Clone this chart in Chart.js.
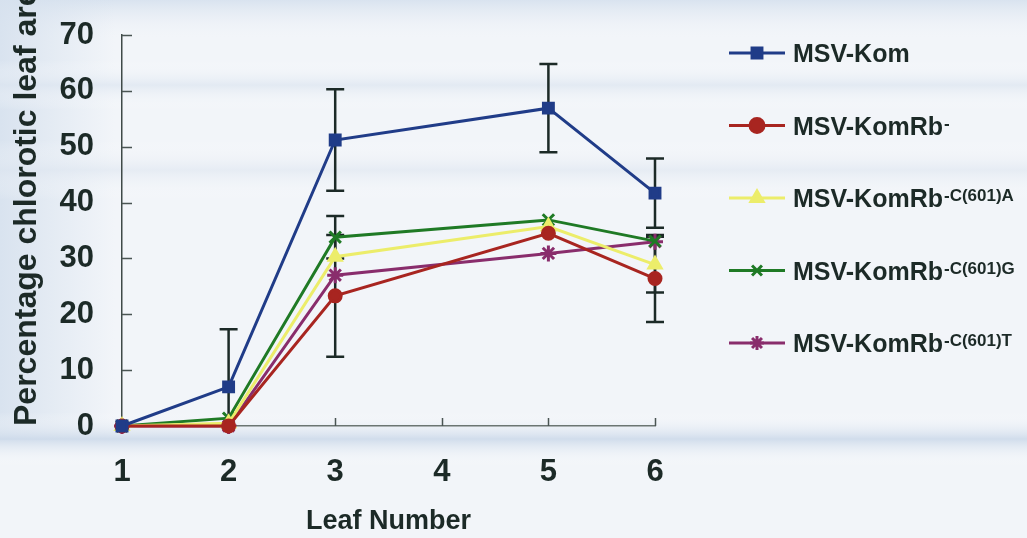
<!DOCTYPE html>
<html>
<head>
<meta charset="utf-8">
<script src="https://cdn.jsdelivr.net/npm/chart.js@4.4.0/dist/chart.umd.min.js"></script>
<style>
  html, body { margin: 0; padding: 0; background: #eef2f7; }
  #wrap { width: 1027px; height: 538px; }
</style>
</head>
<body>
<div id="wrap"><canvas id="lineChart"></canvas></div>
<script>
// Leaf positions that were scored (leaf 4 was not sampled)
const leafNumbers = [1, 2, 3, 5, 6];
const xTickValues = [1, 2, 3, 4, 5, 6];
const yTickValues = [0, 10, 20, 30, 40, 50, 60, 70];

const seriesNames = ['MSV-Kom', 'MSV-KomRb', 'MSV-KomRb', 'MSV-KomRb', 'MSV-KomRb'];
const seriesSup = ['', '-', '-C(601)A', '-C(601)G', '-C(601)T'];

// Mean percentage chlorotic leaf area
const komValues = [0, 7.0, 51.2, 56.9, 41.7];
const komRbValues = [0, 0, 23.3, 34.5, 26.4];
const c601aValues = [0, 0.5, 30.3, 35.7, 28.9];
const c601gValues = [0, 1.4, 33.8, 36.9, 33.1];
const c601tValues = [0, 0, 27.0, 30.9, 33.0];

// Error bar half-lengths
const komErrors = [0, 10.3, 9.1, 7.9, 6.2];
const komRbErrors = [0, 0, 10.9, 0, 7.8];
const c601aErrors = [0, 0, 0, 0, 5.0];
const c601gErrors = [0, 0, 3.8, 0, 0];
const c601tErrors = [0, 0, 0, 0, 0];

const FONT = '"Liberation Sans", Arial, sans-serif';
const INK = '#1c2a27';

function points(values) {
    return values.map((v, i) => ({ x: leafNumbers[i], y: v }));
}

function series(idx, values, errors, color, style, radius) {
    return {
        label: seriesNames[idx] + seriesSup[idx],
        data: points(values),
        errors: errors,
        borderColor: color,
        backgroundColor: color,
        borderWidth: 3,
        pointStyle: style,
        pointRadius: radius,
        pointBorderWidth: 3,
        pointBackgroundColor: color,
        pointBorderColor: color,
        tension: 0,
        clip: false
    };
}

const datasets = [
    series(0, komValues, komErrors, '#203c88', 'rect', 7),
    series(1, komRbValues, komRbErrors, '#a82520', 'circle', 6),
    series(2, c601aValues, c601aErrors, '#eced6a', 'triangle', 7),
    series(3, c601gValues, c601gErrors, '#1f7a25', 'crossRot', 8),
    series(4, c601tValues, c601tErrors, '#892d6c', 'star', 8)
];

function band(ctx, y0, y1, color) {
    const g = ctx.createLinearGradient(0, y0, 0, y1);
    g.addColorStop(0, 'rgba(255,255,255,0)');
    g.addColorStop(0.5, color);
    g.addColorStop(1, 'rgba(255,255,255,0)');
    ctx.fillStyle = g;
    ctx.fillRect(0, y0, 1027, y1 - y0);
}

// paper-like background behind everything
const backdrop = {
    id: 'backdrop',
    beforeDraw(chart) {
        const ctx = chart.ctx;
        ctx.save();
        ctx.fillStyle = '#f2f5f9';
        ctx.fillRect(0, 0, chart.width, chart.height);
        const g = ctx.createLinearGradient(0, 0, 0, 40);
        g.addColorStop(0, '#d9e3ef');
        g.addColorStop(1, 'rgba(242,245,249,0)');
        ctx.fillStyle = g;
        ctx.fillRect(0, 0, chart.width, 40);
        const s = ctx.createLinearGradient(0, 0, 115, 0);
        s.addColorStop(0, 'rgba(214,225,238,0.9)');
        s.addColorStop(1, 'rgba(214,225,238,0)');
        ctx.fillStyle = s;
        ctx.fillRect(0, 0, 115, 440);
        band(ctx, 412, 466, 'rgba(205,218,234,0.9)');
        band(ctx, 60, 110, 'rgba(220,229,240,0.7)');
        band(ctx, 140, 200, 'rgba(222,230,240,0.6)');
        ctx.restore();
    }
};

// vertical error bars with caps, under the lines
const errorBars = {
    id: 'errorBars',
    beforeDatasetsDraw(chart) {
        const ctx = chart.ctx;
        const y = chart.scales.y;
        const area = chart.chartArea;
        ctx.save();
        ctx.beginPath();
        ctx.rect(area.left - 20, area.top - 20, area.right - area.left + 40, area.bottom - area.top + 20);
        ctx.clip();
        ctx.strokeStyle = INK;
        ctx.lineWidth = 2.5;
        chart.data.datasets.forEach((ds, di) => {
            const meta = chart.getDatasetMeta(di);
            ds.errors.forEach((e, i) => {
                if (!e) return;
                const px = meta.data[i].x;
                const v = ds.data[i].y;
                const top = y.getPixelForValue(v + e);
                const bot = y.getPixelForValue(v - e);
                ctx.beginPath();
                ctx.moveTo(px, top);
                ctx.lineTo(px, bot);
                ctx.moveTo(px - 9, top);
                ctx.lineTo(px + 9, top);
                if (v - e >= 0) {
                    ctx.moveTo(px - 9, bot);
                    ctx.lineTo(px + 9, bot);
                }
                ctx.stroke();
            });
        });
        ctx.restore();
    }
};

// short tick marks pointing into the plot
const innerTicks = {
    id: 'innerTicks',
    afterDraw(chart) {
        const ctx = chart.ctx;
        const { x, y } = chart.scales;
        const area = chart.chartArea;
        ctx.save();
        ctx.strokeStyle = '#4a5553';
        ctx.lineWidth = 1.5;
        ctx.beginPath();
        yTickValues.slice(1).forEach(v => {
            const py = Math.round(y.getPixelForValue(v)) + 0.5;
            ctx.moveTo(area.left, py);
            ctx.lineTo(area.left + 10, py);
        });
        xTickValues.slice(2).forEach(v => {
            const px = Math.round(x.getPixelForValue(v)) + 0.5;
            ctx.moveTo(px, area.bottom);
            ctx.lineTo(px, area.bottom - 8);
        });
        ctx.stroke();
        ctx.restore();
    }
};

// legend on the right, with superscripted strain suffixes
const sideLegend = {
    id: 'sideLegend',
    afterDraw(chart) {
        const ctx = chart.ctx;
        ctx.save();
        chart.data.datasets.forEach((ds, i) => {
            const cy = 53 + i * 72.5;
            ctx.strokeStyle = ds.borderColor;
            ctx.fillStyle = ds.borderColor;
            ctx.lineWidth = 3;
            ctx.beginPath();
            ctx.moveTo(729, cy);
            ctx.lineTo(785, cy);
            ctx.stroke();
            Chart.helpers.drawPoint(ctx, {
                pointStyle: ds.pointStyle, radius: 7, borderWidth: 3, rotation: 0
            }, 757, cy);
            ctx.fillStyle = INK;
            ctx.textAlign = 'left';
            ctx.textBaseline = 'alphabetic';
            ctx.font = 'bold 25px ' + FONT;
            ctx.fillText(seriesNames[i], 793, cy + 9);
            const w = ctx.measureText(seriesNames[i]).width;
            if (seriesSup[i]) {
                ctx.font = 'bold 17px ' + FONT;
                ctx.fillText(seriesSup[i], 793 + w + 1, cy + 3);
            }
        });
        ctx.restore();
    }
};

document.addEventListener('DOMContentLoaded', () => {
    const ctx = document.getElementById('lineChart').getContext('2d');

    new Chart(ctx, {
        type: 'line',
        data: { datasets: datasets },
        options: {
            responsive: true,
            maintainAspectRatio: false,
            animation: false,
            layout: { padding: { top: 35, right: 372, left: 0, bottom: 0 } },
            plugins: {
                legend: { display: false },
                tooltip: { enabled: false }
            },
            scales: {
                x: {
                    type: 'linear',
                    min: 1,
                    max: 6,
                    afterBuildTicks: (scale) => {
                        scale.ticks = xTickValues.map(v => ({ value: v }));
                    },
                    afterFit: (scale) => { scale.height = 112; },
                    grid: { display: false, drawTicks: false, tickLength: 0 },
                    border: { display: true, color: '#6b7572', width: 1.5 },
                    ticks: {
                        padding: 28,
                        color: INK,
                        font: { family: FONT, size: 31, weight: 'bold' }
                    },
                    title: {
                        display: true,
                        text: 'Leaf Number',
                        color: INK,
                        font: { family: FONT, size: 27, weight: 'bold' },
                        padding: { top: 0, bottom: 0 }
                    }
                },
                y: {
                    min: 0,
                    max: 70,
                    afterBuildTicks: (scale) => {
                        scale.ticks = yTickValues.map(v => ({ value: v }));
                    },
                    afterFit: (scale) => {
                        scale.width = 122;
                        scale.paddingTop = 0;
                        scale.paddingBottom = 0;
                    },
                    grid: { display: false, drawTicks: false, tickLength: 0 },
                    border: { display: true, color: '#3f4a48', width: 1.5 },
                    ticks: {
                        padding: 28,
                        color: INK,
                        font: { family: FONT, size: 31, weight: 'bold' }
                    },
                    title: {
                        display: true,
                        text: 'Percentage chlorotic leaf area',
                        align: 'start',
                        color: INK,
                        font: { family: FONT, size: 32, weight: 'bold' },
                        padding: { top: 8, bottom: 0 }
                    }
                }
            }
        },
        plugins: [backdrop, errorBars, innerTicks, sideLegend]
    });
});
</script>
</body>
</html>
